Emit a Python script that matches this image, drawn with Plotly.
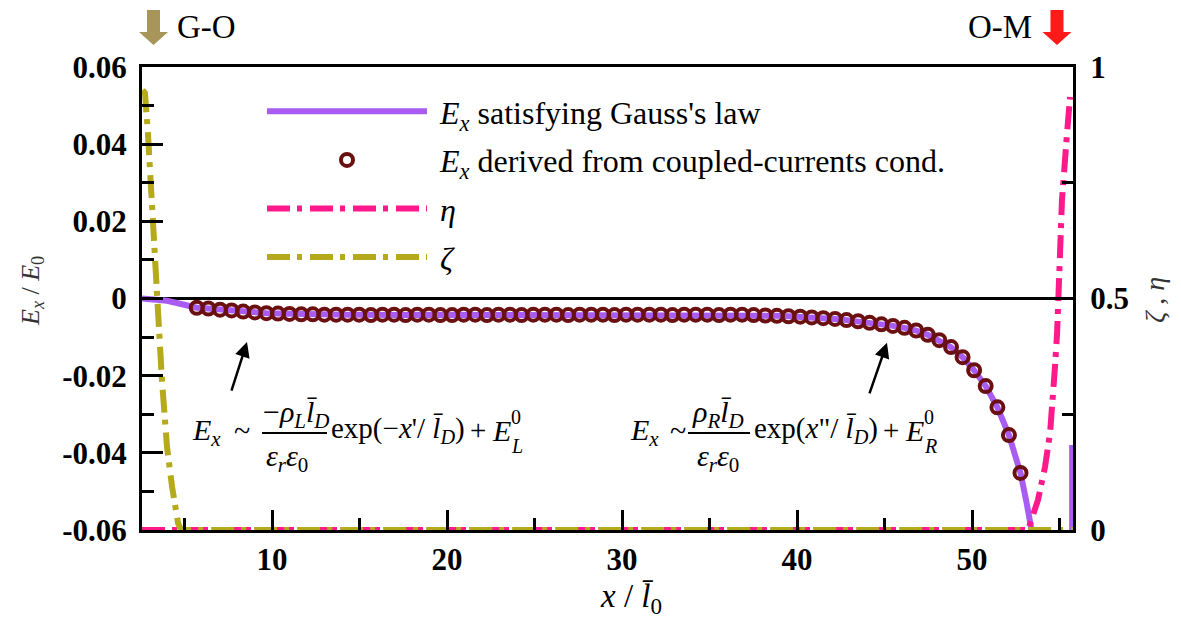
import plotly.graph_objects as go

# ---------------- data ----------------
marker_x = [5.70, 6.36, 7.03, 7.69, 8.35, 9.02, 9.68, 10.34, 11.00, 11.67,
            12.33, 12.99, 13.66, 14.32, 14.98, 15.65, 16.31, 16.97, 17.63, 18.30,
            18.96, 19.62, 20.29, 20.95, 21.61, 22.28, 22.94, 23.60, 24.26, 24.93,
            25.59, 26.25, 26.92, 27.58, 28.24, 28.91, 29.57, 30.23, 30.89, 31.56,
            32.22, 32.88, 33.55, 34.21, 34.87, 35.54, 36.20, 36.86, 37.52, 38.19,
            38.85, 39.51, 40.18, 40.84, 41.50, 42.17, 42.83, 43.49, 44.15, 44.82,
            45.48, 46.14, 46.81, 47.47, 48.13, 48.80, 49.46, 50.12, 50.78, 51.45,
            52.11, 52.77]
marker_y = [-0.0024, -0.0026, -0.0029, -0.0031, -0.0034, -0.0036, -0.0038, -0.0039, -0.0040, -0.0041,
            -0.0041, -0.0042, -0.0042, -0.0042, -0.0042, -0.0043, -0.0042, -0.0042, -0.0043, -0.0042,
            -0.0042, -0.0043, -0.0043, -0.0042, -0.0042, -0.0043, -0.0042, -0.0042, -0.0043, -0.0042,
            -0.0042, -0.0042, -0.0043, -0.0042, -0.0042, -0.0042, -0.0043, -0.0042, -0.0042, -0.0042,
            -0.0042, -0.0043, -0.0042, -0.0042, -0.0042, -0.0043, -0.0042, -0.0042, -0.0043, -0.0044,
            -0.0045, -0.0046, -0.0047, -0.0049, -0.0051, -0.0053, -0.0056, -0.0059, -0.0063, -0.0067,
            -0.0071, -0.0076, -0.0083, -0.0094, -0.0108, -0.0126, -0.0152, -0.0186, -0.0227, -0.0282,
            -0.0354, -0.0452]

gauss_head_x = [2.57, 3.5, 4.0, 4.5, 5.0]
gauss_head_y = [0.0, -0.0002, -0.0006, -0.0011, -0.0017]
gauss_tail_x = [53.1, 53.43, 53.8, 55.72, 55.72]
gauss_tail_y = [-0.0525, -0.060, -0.070, -0.070, -0.038]

zeta_x = [2.60, 2.74, 2.91, 3.03, 3.14, 3.43, 3.49, 3.71, 4.00, 4.29, 4.63, 4.80, 55.77]
zeta_y = [0.95, 0.944, 0.857, 0.784, 0.728, 0.540, 0.469, 0.324, 0.179, 0.093, 0.015, 0.0, 0.0]

eta_x = [2.57, 53.20, 53.77, 54.17, 54.46, 54.63, 54.74, 54.86, 54.91, 55.03, 55.14, 55.43, 55.60]
eta_y = [0.0, 0.0, 0.065, 0.136, 0.210, 0.281, 0.352, 0.425, 0.497, 0.605, 0.713, 0.857, 0.935]

x_ticks = [10, 20, 30, 40, 50]
y_ticks = [-0.06, -0.04, -0.02, 0, 0.02, 0.04, 0.06]
y_tick_text = ["-0.06", "-0.04", "-0.02", "0", "0.02", "0.04", "0.06"]
y2_ticks = [0, 0.5, 1]
y2_tick_text = ["0", "0.5", "1"]

names = ["&nbsp;<i>E</i><sub><i>x</i></sub> satisfying Gauss's law",
         "&nbsp;<i>E</i><sub><i>x</i></sub> derived from coupled-currents cond.",
         "&nbsp;<i>η</i>", "&nbsp;<i>ζ</i>"]

# ---------------- styling ----------------
SERIF = "Times New Roman, Liberation Serif, serif"
PURPLE = "#a95cf2"
MAROON = "#6b1010"
PINK = "#ff1a8c"
OLIVE = "#b5aa1c"
DASHDOT = "23px,7px,5px,8px"

L, R, T, B = 142, 108, 67, 99
W, H = 1181, 629
PW, PH = W - L - R, H - T - B


def fx(px):
    return (px - L) / PW


def fy(py):
    return (H - B - py) / PH


gauss_x = gauss_head_x + marker_x + gauss_tail_x
gauss_y = gauss_head_y + marker_y + gauss_tail_y

fig = go.Figure()
fig.add_trace(go.Scatter(x=gauss_x, y=gauss_y, mode="lines", name=names[0],
                         line=dict(color=PURPLE, width=6), legendgroup="a"))
fig.add_trace(go.Scatter(x=marker_x, y=marker_y, mode="markers", name=names[1],
                         marker=dict(symbol="circle-open", size=12, color=MAROON,
                                     line=dict(width=4, color=MAROON)),
                         legendgroup="b"))
fig.add_trace(go.Scatter(x=eta_x, y=eta_y, mode="lines", name=names[2], yaxis="y2",
                         line=dict(color=PINK, width=6, dash=DASHDOT), legendgroup="c"))
fig.add_trace(go.Scatter(x=zeta_x, y=zeta_y, mode="lines", name=names[3], yaxis="y2",
                         line=dict(color=OLIVE, width=6, dash=DASHDOT), legendgroup="d"))

tickfont = dict(family=SERIF, size=31, color="black", weight="bold")

fig.update_layout(
    width=W, height=H,
    margin=dict(l=L, r=R, t=T, b=B, pad=0),
    paper_bgcolor="white", plot_bgcolor="white",
    font=dict(family=SERIF),
    showlegend=True,
    legend=dict(x=fx(262), y=fy(84), xanchor="left", yanchor="top",
                font=dict(family=SERIF, size=32, color="black"),
                itemwidth=160, tracegroupgap=4, bgcolor="rgba(0,0,0,0)",
                traceorder="grouped"),
    xaxis=dict(range=[2.57, 55.77], tickvals=x_ticks, ticktext=[str(v) for v in x_ticks],
               tickfont=tickfont, ticks="inside", ticklen=20, tickwidth=3, tickcolor="black",
               minor=dict(dtick=5, tick0=0, ticks="inside", ticklen=12, tickwidth=3, tickcolor="black"),
               showline=True, linewidth=3, linecolor="black", mirror=True,
               showgrid=False, zeroline=False),
    yaxis=dict(range=[-0.06, 0.06], tickvals=y_ticks, ticktext=y_tick_text,
               tickfont=tickfont, ticks="inside", ticklen=21, tickwidth=3, tickcolor="black",
               minor=dict(dtick=0.01, tick0=0, ticks="inside", ticklen=12, tickwidth=3, tickcolor="black"),
               showline=True, linewidth=3, linecolor="black", ticklabelstandoff=6,
               showgrid=False, zeroline=True, zerolinecolor="black", zerolinewidth=2.5),
    yaxis2=dict(range=[0, 1], overlaying="y", side="right", tickvals=y2_ticks, ticktext=y2_tick_text,
                tickfont=tickfont, ticks="inside", ticklen=20, tickwidth=3, tickcolor="black",
                minor=dict(dtick=0.25, tick0=0, ticks="inside", ticklen=11, tickwidth=3, tickcolor="black"),
                showline=True, linewidth=3, linecolor="black", ticklabelstandoff=8,
                showgrid=False, zeroline=False),
)

annotations = []
shapes = []


def text(px, py, s, size=30, xanchor="left", yanchor="middle", angle=0, color="black"):
    annotations.append(dict(x=fx(px), y=fy(py), xref="paper", yref="paper", text=s,
                            showarrow=False, xanchor=xanchor, yanchor=yanchor,
                            textangle=angle,
                            font=dict(family=SERIF, size=size, color=color)))


# axis titles
text(631, 598, "<i>x</i> / <i>l̄</i><sub>0</sub>", size=33, xanchor="center")
text(32, 291, "<i>E</i><sub><i>x</i></sub> / <i>E</i><sub>0</sub>", size=26, xanchor="center",
     angle=-90, color="#333333")
text(1154, 300, "<i>ζ</i> , <i>η</i>", size=28, xanchor="center", angle=-90, color="#333333")

# phase markers
text(175, 27, "G-O", size=33)
text(1034, 27, "O-M", size=33, xanchor="right")


def down_arrow(cx, color):
    pts = [(cx - 6.5, 10), (cx + 6.5, 10), (cx + 6.5, 32), (cx + 14.5, 32), (cx, 45),
           (cx - 14.5, 32), (cx - 6.5, 32)]
    path = "M" + " L".join(f"{fx(a):.5f},{fy(b):.5f}" for a, b in pts) + " Z"
    shapes.append(dict(type="path", path=path, xref="paper", yref="paper",
                       fillcolor=color, line=dict(width=0)))


down_arrow(153.5, "#a8955a")
down_arrow(1057, "#ff1a1a")


def formula(ex_left, tilde_x, num_cx, num, bar0, bar1, den_cx, exp_left, exp_text, plus_x, e_left, sub):
    text(ex_left, 432, "<i>E</i><sub><i>x</i></sub>")
    text(tilde_x, 430, "~", xanchor="center")
    text(num_cx, 414, num, xanchor="center")
    shapes.append(dict(type="line", xref="paper", yref="paper", x0=fx(bar0), x1=fx(bar1),
                       y0=fy(433), y1=fy(433), line=dict(color="black", width=2)))
    text(den_cx, 458, "<i>ε</i><sub><i>r</i></sub><i>ε</i><sub>0</sub>", xanchor="center")
    text(exp_left, 430, exp_text, size=29)
    text(plus_x, 430, "+", size=29, xanchor="center")
    text(e_left, 430, "<i>E</i>")
    text(e_left + 19, 417, "0", size=20)
    text(e_left + 19, 446, f"<i>{sub}</i>", size=20)


formula(190, 242, 296, "−<i>ρ</i><sub><i>L</i></sub><i>l̄</i><sub><i>D</i></sub>", 262, 327, 287,
        329, "exp(−<i>x</i>'/ <i>l̄</i><sub><i>D</i></sub>)", 478, 490, "L")
formula(628, 678, 718, "<i>ρ</i><sub><i>R</i></sub><i>l̄</i><sub><i>D</i></sub>", 688, 750, 718,
        752, "exp(<i>x</i>\"/ <i>l̄</i><sub><i>D</i></sub>)", 891, 903, "R")

# pointer arrows
annotations.append(dict(x=8.57, y=-0.0113, xref="x", yref="y", ax=-16, ay=50, text="",
                        showarrow=True, arrowhead=2, arrowsize=1.2, arrowwidth=2.5,
                        arrowcolor="black"))
annotations.append(dict(x=45.14, y=-0.0115, xref="x", yref="y", ax=-18, ay=52, text="",
                        showarrow=True, arrowhead=2, arrowsize=1.2, arrowwidth=2.5,
                        arrowcolor="black"))

fig.update_layout(annotations=annotations, shapes=shapes)
fig.write_html("out.html", config={"displayModeBar": False},
               post_script="document.body.style.margin='0px';")
